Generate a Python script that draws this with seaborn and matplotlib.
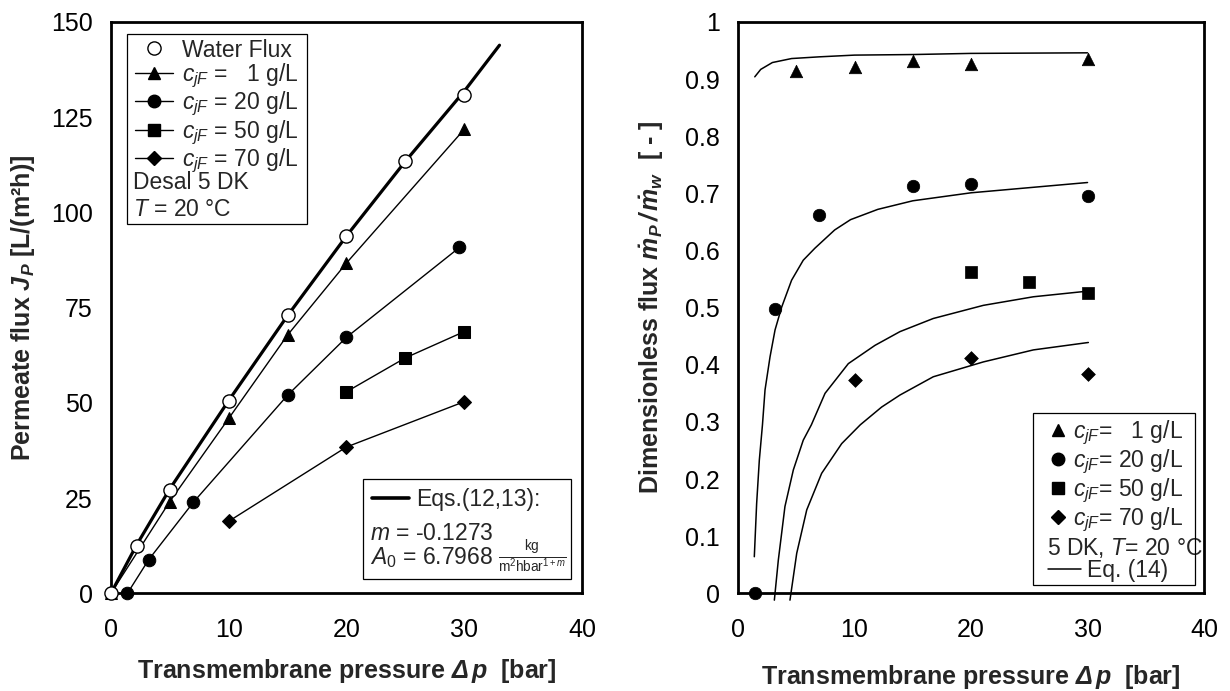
import matplotlib
matplotlib.use("Agg")
import matplotlib.pyplot as plt
import seaborn as sns
from matplotlib.lines import Line2D
from matplotlib.patches import Rectangle

# ---------------- left panel: permeate flux J_P [L/(m2h)] ----------------
dp_water = [0, 2.2, 5, 10, 15, 20, 25, 30]
jp_water = [0, 12.3, 27.0, 50.6, 73.1, 93.9, 113.4, 130.8]

dp_1 = [0, 5, 10, 15, 20, 30]
jp_1 = [0, 24.1, 45.9, 67.8, 86.7, 121.8]

dp_20 = [1.4, 3.2, 7.0, 15, 20, 29.6]
jp_20 = [0, 8.8, 23.9, 52.0, 67.2, 90.8]

dp_50 = [20, 25, 30]
jp_50 = [52.9, 61.8, 68.7]

dp_70 = [10, 20, 30]
jp_70 = [18.9, 38.4, 50.3]

# Eqs.(12,13) fit line
dp_eq = [0, 2.2, 5, 10, 15, 20, 25, 30, 33]
jp_eq = [0, 12.8, 27.4, 50.6, 72.9, 93.8, 113.4, 131.8, 143.9]

# ---------------- right panel: dimensionless flux ----------------
r_dp_1 = [5, 10, 15, 20, 30]
r_1 = [0.915, 0.921, 0.932, 0.927, 0.935]
r_dp_20 = [1.44, 3.2, 6.95, 15, 20, 30]
r_20 = [0.0, 0.498, 0.662, 0.713, 0.716, 0.695]
r_dp_50 = [20, 25, 30]
r_50 = [0.562, 0.545, 0.525]
r_dp_70 = [10, 20, 30]
r_70 = [0.373, 0.411, 0.384]

# Eq. (14) model curves
c1_x = [1.44, 1.95, 2.95, 4.6, 7.0, 10, 15, 20, 30]
c1_y = [0.904, 0.917, 0.929, 0.936, 0.939, 0.942, 0.943, 0.945, 0.946]
c20_x = [1.40, 1.6, 1.83, 2.1, 2.32, 2.75, 3.18, 3.75, 4.6, 5.6, 6.6, 8.3, 9.66, 12, 15, 20, 30]
c20_y = [0.064, 0.157, 0.233, 0.295, 0.356, 0.414, 0.461, 0.501, 0.548, 0.583, 0.604,
         0.636, 0.654, 0.672, 0.687, 0.701, 0.719]
c50_x = [3.12, 3.46, 4.03, 4.75, 5.6, 6.3, 7.47, 9.47, 11.76, 13.9, 16.76, 21.06, 25.35, 30.07]
c50_y = [-0.012, 0.058, 0.152, 0.216, 0.268, 0.295, 0.35, 0.402, 0.434, 0.458, 0.481,
         0.504, 0.519, 0.529]
c70_x = [4.46, 5.04, 5.9, 7.18, 8.9, 10.5, 12.33, 13.9, 16.76, 21.06, 25.35, 30.07]
c70_y = [-0.012, 0.07, 0.146, 0.21, 0.262, 0.295, 0.326, 0.347, 0.379, 0.405, 0.426, 0.439]

x_ticks = [0, 10, 20, 30, 40]
left_yticks = [0, 25, 50, 75, 100, 125, 150]
right_yticks = [0, 0.1, 0.2, 0.3, 0.4, 0.5, 0.6, 0.7, 0.8, 0.9, 1.0]
right_yticklabels = ["0", "0.1", "0.2", "0.3", "0.4", "0.5", "0.6", "0.7", "0.8", "0.9", "1"]

conc_labels = [r"$c_{jF}$ =   1 g/L", r"$c_{jF}$ = 20 g/L",
               r"$c_{jF}$ = 50 g/L", r"$c_{jF}$ = 70 g/L"]
conc_labels_r = [r"$c_{jF}$=   1 g/L", r"$c_{jF}$= 20 g/L",
                 r"$c_{jF}$= 50 g/L", r"$c_{jF}$= 70 g/L"]
markers = ["^", "o", "s", "D"]
msizes = [9, 9, 8.5, 7]

sns.set_theme(style="white")
plt.rcParams["font.family"] = ["Liberation Sans", "DejaVu Sans"]
plt.rcParams["mathtext.fontset"] = "custom"
plt.rcParams["mathtext.rm"] = "Liberation Sans"
plt.rcParams["mathtext.it"] = "Liberation Sans:italic"
plt.rcParams["mathtext.bf"] = "Liberation Sans:bold"
plt.rcParams["mathtext.bfit"] = "Liberation Sans:italic:bold"

TICK_FS = 18
LAB_FS = 18
LEG_FS = 16.5

fig = plt.figure(figsize=(12.3, 6.91), dpi=100)
axL = fig.add_axes([0.0902, 0.1414, 0.3829, 0.8268])
axR = fig.add_axes([0.6000, 0.1414, 0.3789, 0.8268])


def style_axes(ax):
    for sp in ax.spines.values():
        sp.set_color("black")
        sp.set_linewidth(2.0)
    ax.tick_params(direction="in", length=6, width=0.8, color="black",
                   labelsize=TICK_FS, labelcolor="black")
    ax.tick_params(axis="x", pad=18)
    ax.tick_params(axis="y", pad=13)
    ax.set_xlim(0, 40)
    ax.set_xticks(x_ticks)


xlabel = r"Transmembrane pressure $\mathbfit{\Delta\,p}$  [bar]"

# ---- left panel ----
style_axes(axL)
sns.lineplot(x=dp_eq, y=jp_eq, ax=axL, color="black", lw=2.3, estimator=None, sort=False)
left_series = [(dp_1, jp_1), (dp_20, jp_20), (dp_50, jp_50), (dp_70, jp_70)]
for (xs, ys), mk, ms in zip(left_series, markers, msizes):
    sns.lineplot(x=xs, y=ys, ax=axL, color="black", lw=1.0, marker=mk, markersize=ms,
                 markerfacecolor="black", markeredgecolor="black",
                 estimator=None, sort=False, clip_on=False, zorder=3)
sns.lineplot(x=dp_water, y=jp_water, ax=axL, color="black", lw=0, marker="o", markersize=9.5,
             markerfacecolor="white", markeredgecolor="black", markeredgewidth=1.0,
             estimator=None, sort=False, clip_on=False, zorder=4)
axL.set_ylim(0, 150)
axL.set_yticks(left_yticks)
axL.set_xlabel(xlabel, fontsize=LAB_FS, fontweight="bold")
axL.set_ylabel(r"Permeate flux $\mathbfit{J_P}$ [L/(m²h)]", fontsize=LAB_FS, fontweight="bold")
axL.xaxis.set_label_coords(0.5, -0.112)
axL.yaxis.set_label_coords(-0.157, 0.5)

# legend upper left
hL = [Line2D([], [], ls="", marker="o", ms=9.5, mfc="white", mec="black", mew=1.0)]
for mk, ms in zip(markers, msizes):
    hL.append(Line2D([], [], color="black", lw=1.0, marker=mk, ms=ms, mfc="black", mec="black"))
legL = axL.legend(hL, ["Water Flux"] + conc_labels, loc="center left",
                  bbox_to_anchor=(0.051, 0.8515), frameon=False, fontsize=LEG_FS,
                  borderpad=0, borderaxespad=0, handlelength=1.65, handletextpad=0.4,
                  labelspacing=0.0)
axL.add_artist(legL)
axL.text(0.0467, 0.7182, "Desal 5 DK", transform=axL.transAxes, fontsize=LEG_FS, va="center")
axL.text(0.0467, 0.6711, r"$T$ = 20 °C", transform=axL.transAxes, fontsize=LEG_FS, va="center")
axL.add_patch(Rectangle((0.034, 0.6459), 0.3832, 0.3326, transform=axL.transAxes,
                        fill=False, ec="black", lw=0.9, zorder=5))

# legend lower right
axL.legend([Line2D([], [], color="black", lw=2.6)], ["Eqs.(12,13):"],
           loc="center left", bbox_to_anchor=(0.554, 0.1633), frameon=False,
           fontsize=LEG_FS, borderpad=0, borderaxespad=0, handlelength=1.6,
           handletextpad=0.35)
axL.text(0.550, 0.105, r"$m$ = -0.1273", transform=axL.transAxes, fontsize=LEG_FS, va="center")
axL.text(0.550, 0.062, r"$A_\mathit{0}$ = 6.7968", transform=axL.transAxes, fontsize=LEG_FS,
         va="center")
axL.text(0.822, 0.062, r"$\frac{\mathrm{kg}}{\mathrm{m^2hbar^{1+\mathit{m}}}}$",
         transform=axL.transAxes, fontsize=14, va="center")
axL.add_patch(Rectangle((0.5344, 0.0245), 0.4416, 0.175, transform=axL.transAxes,
                        fill=False, ec="black", lw=0.9, zorder=5))

# ---- right panel ----
style_axes(axR)
for xs, ys in [(c1_x, c1_y), (c20_x, c20_y), (c50_x, c50_y), (c70_x, c70_y)]:
    sns.lineplot(x=xs, y=ys, ax=axR, color="black", lw=1.1, estimator=None, sort=False,
                 clip_on=False)
right_series = [(r_dp_1, r_1), (r_dp_20, r_20), (r_dp_50, r_50), (r_dp_70, r_70)]
for (xs, ys), mk, ms in zip(right_series, markers, msizes):
    sns.scatterplot(x=xs, y=ys, ax=axR, color="black", marker=mk, s=ms ** 2,
                    edgecolor="black", linewidth=0.5, clip_on=False, zorder=4)
axR.set_ylim(0, 1)
axR.set_yticks(right_yticks)
axR.set_yticklabels(right_yticklabels)
axR.set_xlabel(xlabel, fontsize=LAB_FS, fontweight="bold")
axR.set_ylabel(r"Dimensionless flux $\mathbfit{\dot{m}_P\,/\,\dot{m}_w}$  [ - ]", fontsize=LAB_FS,
               fontweight="bold")
axR.xaxis.set_label_coords(0.5, -0.122)
axR.yaxis.set_label_coords(-0.155, 0.5)

hR = [Line2D([], [], ls="", marker=mk, ms=ms, mfc="black", mec="black")
      for mk, ms in zip(markers, msizes)]
legR = axR.legend(hR, conc_labels_r, loc="center left", bbox_to_anchor=(0.6695, 0.205),
                  frameon=False, fontsize=LEG_FS, borderpad=0, borderaxespad=0,
                  handlelength=0.7, handletextpad=0.3, labelspacing=0.02)
axR.add_artist(legR)
axR.text(0.663, 0.0795, r"5 DK, $T$= 20 °C", transform=axR.transAxes, fontsize=LEG_FS,
         va="center")
axR.legend([Line2D([], [], color="black", lw=1.1)], ["Eq. (14)"], loc="center left",
           bbox_to_anchor=(0.665, 0.040), frameon=False, fontsize=LEG_FS, borderpad=0,
           borderaxespad=0, handlelength=1.45, handletextpad=0.25)
axR.add_patch(Rectangle((0.633, 0.0145), 0.3477, 0.3006, transform=axR.transAxes,
                        fill=False, ec="black", lw=0.9, zorder=5))

fig.savefig("out.png", dpi=100)
